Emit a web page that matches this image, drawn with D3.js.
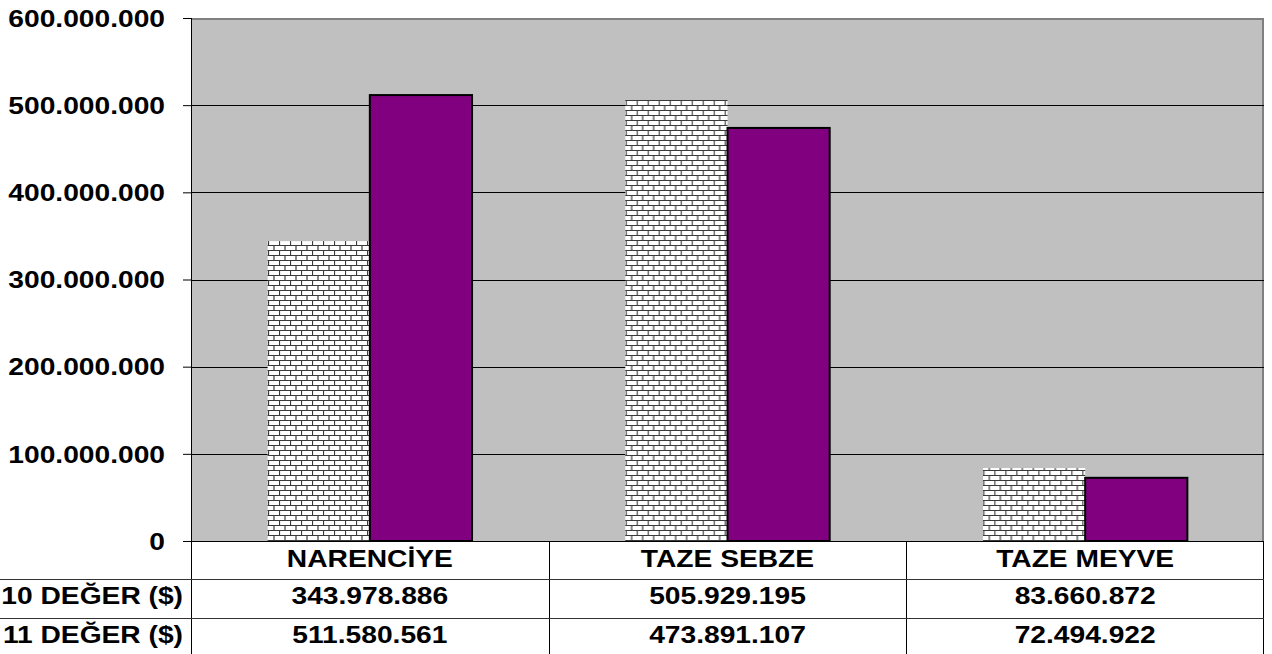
<!DOCTYPE html>
<html>
<head>
<meta charset="utf-8">
<script src="https://cdn.jsdelivr.net/npm/d3@7"></script>
<style>
  body { margin: 0; background: #fff; }
  svg text { font-family: "Liberation Sans", Arial, sans-serif; font-weight: bold; font-size: 23.5px; fill: #000; }
</style>
</head>
<body>
<svg id="chart" width="1272" height="654"></svg>
<script>
var categories = ['NARENCİYE', 'TAZE SEBZE', 'TAZE MEYVE']
var seriesNames = ['10 DEĞER ($)', '11 DEĞER ($)']
var values2010 = [343978886, 505929195, 83660872]
var values2011 = [511580561, 473891107, 72494922]
var valueLabels2010 = ['343.978.886', '505.929.195', '83.660.872']
var valueLabels2011 = ['511.580.561', '473.891.107', '72.494.922']
var yTicks = [0, 100000000, 200000000, 300000000, 400000000, 500000000, 600000000]
var yTickLabels = ['0', '100.000.000', '200.000.000', '300.000.000', '400.000.000', '500.000.000', '600.000.000']

var svg = d3.select('#chart')
var pLeft = 191, pRight = 1264, pTop = 18, pBottom = 541
var rowLines = [541, 579, 618]
var stretch = 1.2

// brick fill for the first series
var defs = svg.append('defs')
var pat = defs.append('pattern')
  .attr('id', 'brick')
  .attr('patternUnits', 'userSpaceOnUse')
  .attr('width', 11).attr('height', 10)
pat.append('rect').attr('width', 11).attr('height', 10).attr('fill', '#fff')
pat.append('path')
  .attr('d', 'M0,0.5H11M0,5.5H11M0.5,0V5.5M6,5.5V10')
  .attr('stroke', '#3a3a3a').attr('stroke-width', 1.2).attr('fill', 'none')

var x0 = d3.scaleBand().domain(categories).range([pLeft, pRight])
var x1 = d3.scaleBand().domain(seriesNames).range([0, x0.bandwidth()])
  .paddingInner(0).paddingOuter(0.75)
var y = d3.scaleLinear().domain([0, 600000000]).range([pBottom, pTop])

// plot background
svg.append('rect')
  .attr('x', pLeft).attr('y', pTop)
  .attr('width', pRight - pLeft).attr('height', pBottom - pTop)
  .attr('fill', '#c0c0c0')
svg.append('path')
  .attr('d', 'M' + pLeft + ',' + (pTop + 1) + 'H' + (pRight - 1) + 'V' + pBottom)
  .attr('stroke', '#808080').attr('stroke-width', 2).attr('fill', 'none')

// gridlines
svg.append('g').selectAll('line')
  .data(yTicks.filter(function (d) { return d > 0 && d < 600000000 }))
  .enter().append('line')
  .attr('x1', pLeft).attr('x2', pRight)
  .attr('y1', function (d) { return Math.round(y(d)) + 0.5 })
  .attr('y2', function (d) { return Math.round(y(d)) + 0.5 })
  .attr('stroke', '#000')

// bars
var groups = svg.append('g').selectAll('g')
  .data(categories)
  .enter().append('g')
  .attr('transform', function (d) { return 'translate(' + x0(d) + ',0)' })

groups.append('rect')
  .attr('x', x1(seriesNames[0]))
  .attr('y', function (d, i) { return y(values2010[i]) })
  .attr('width', x1.bandwidth())
  .attr('height', function (d, i) { return pBottom - y(values2010[i]) })
  .attr('fill', 'url(#brick)')

groups.append('rect')
  .attr('x', x1(seriesNames[1]))
  .attr('y', function (d, i) { return y(values2011[i]) })
  .attr('width', x1.bandwidth())
  .attr('height', function (d, i) { return pBottom - y(values2011[i]) })
  .attr('fill', '#800080')
  .attr('stroke', '#000')
  .attr('stroke-width', 2)

// y axis
var yAxis = svg.append('g')
  .attr('transform', 'translate(' + pLeft + ',0)')
  .call(d3.axisLeft(y).tickValues(yTicks).tickSize(8)
    .tickFormat(function (d, i) { return yTickLabels[i] }))
yAxis.select('.domain').remove()
yAxis.selectAll('line').attr('stroke', '#000')
yAxis.selectAll('text')
  .attr('x', 0).attr('dy', '0.35em')
  .attr('transform', 'translate(-26,0) scale(' + stretch + ',1)')
  .attr('fill', '#000')
  .style('font-family', '"Liberation Sans", Arial, sans-serif')
  .style('font-size', '23.5px')
  .style('font-weight', 'bold')

// data table lines
var tbl = svg.append('g').attr('stroke', '#000').attr('stroke-width', 1)
tbl.append('line').attr('x1', pLeft + 0.5).attr('x2', pLeft + 0.5).attr('y1', pTop).attr('y2', 654)
tbl.append('line').attr('x1', pLeft).attr('x2', pRight).attr('y1', pBottom + 0.5).attr('y2', pBottom + 0.5)
tbl.append('line').attr('x1', pRight - 0.5).attr('x2', pRight - 0.5).attr('y1', pBottom).attr('y2', 654)
categories.slice(1).forEach(function (c) {
  tbl.append('line').attr('x1', Math.round(x0(c)) + 0.5).attr('x2', Math.round(x0(c)) + 0.5)
    .attr('y1', pBottom).attr('y2', 654)
})
rowLines.slice(1).forEach(function (r) {
  tbl.append('line').attr('x1', 0).attr('x2', pRight).attr('y1', r + 0.5).attr('y2', r + 0.5)
    .attr('stroke', '#333')
})

function label (x, yy, text, anchor) {
  svg.append('text')
    .attr('transform', 'translate(' + x + ',' + yy + ') scale(' + stretch + ',1)')
    .attr('text-anchor', anchor || 'middle')
    .text(text)
}

var baselines = [567, 604, 643]
categories.forEach(function (c, i) {
  var cx = x0(c) + x0.bandwidth() / 2
  label(cx, baselines[0], c)
  label(cx, baselines[1], valueLabels2010[i])
  label(cx, baselines[2], valueLabels2011[i])
})
label(183, baselines[1], seriesNames[0], 'end')
label(183, baselines[2], seriesNames[1], 'end')
</script>
</body>
</html>
